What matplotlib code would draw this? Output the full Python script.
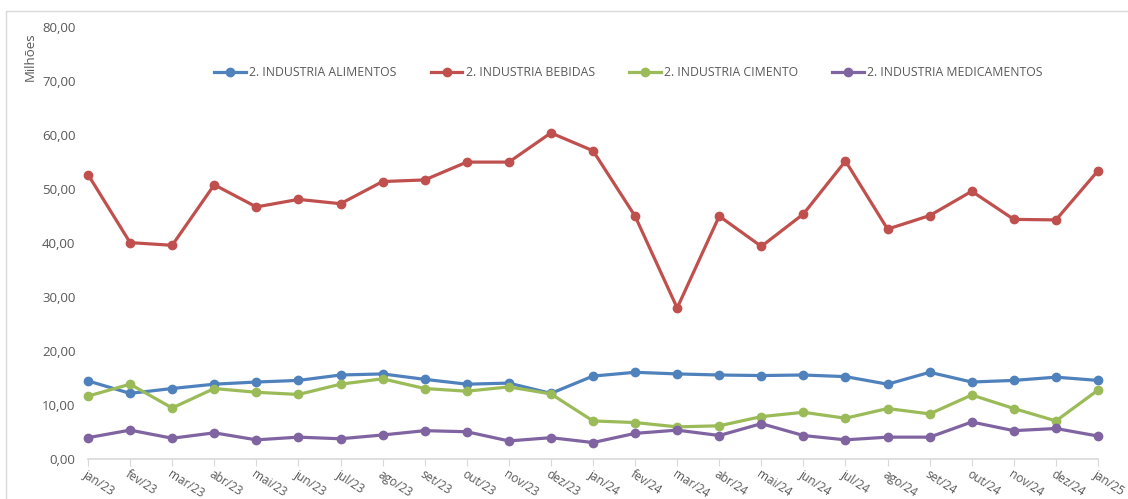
import matplotlib
matplotlib.use("Agg")
import matplotlib.pyplot as plt
from matplotlib.patches import Rectangle

months = ["jan/23", "fev/23", "mar/23", "abr/23", "mai/23", "jun/23", "jul/23", "ago/23",
          "set/23", "out/23", "nov/23", "dez/23", "jan/24", "fev/24", "mar/24", "abr/24",
          "mai/24", "jun/24", "jul/24", "ago/24", "set/24", "out/24", "nov/24", "dez/24", "jan/25"]

alimentos = [14.5, 12.2, 13.1, 13.9, 14.3, 14.6, 15.6, 15.8, 14.8, 13.9, 14.1, 12.2, 15.4,
             16.1, 15.8, 15.6, 15.5, 15.6, 15.3, 13.9, 16.1, 14.3, 14.6, 15.2, 14.6]
bebidas = [52.7, 40.1, 39.6, 50.8, 46.7, 48.1, 47.3, 51.4, 51.7, 55.0, 55.0, 60.4, 57.1,
           45.0, 28.0, 45.0, 39.4, 45.4, 55.2, 42.6, 45.1, 49.6, 44.4, 44.3, 53.4]
cimento = [11.7, 13.9, 9.5, 13.1, 12.4, 12.0, 13.9, 14.9, 13.1, 12.6, 13.4, 12.1, 7.1,
           6.8, 6.0, 6.2, 7.9, 8.7, 7.6, 9.4, 8.4, 11.9, 9.4, 7.1, 12.8]
medicamentos = [4.0, 5.4, 3.9, 4.9, 3.6, 4.1, 3.8, 4.5, 5.3, 5.1, 3.4, 4.0, 3.1,
                4.8, 5.4, 4.4, 6.6, 4.4, 3.6, 4.1, 4.1, 6.9, 5.3, 5.7, 4.3]

series_names = ["2. INDUSTRIA ALIMENTOS", "2. INDUSTRIA BEBIDAS",
                "2. INDUSTRIA CIMENTO", "2. INDUSTRIA MEDICAMENTOS"]
series_values = [alimentos, bebidas, cimento, medicamentos]
colors = ["#4F81BD", "#C0504D", "#9BBB59", "#8064A2"]

y_ticks = [0, 10, 20, 30, 40, 50, 60, 70, 80]

plt.rcParams['font.family'] = ['Open Sans', 'DejaVu Sans']
text_color = "#595959"

W, H = 1128, 499
fig = plt.figure(figsize=(W / 100, H / 100), dpi=100)
ax = fig.add_axes([88 / W, 1 - 459.3 / H, (1098 - 88) / W, (459.3 - 27) / H])

# chart frame
fig.patches.append(Rectangle((6 / W, -0.05), 1.2, 1 - 11 / H + 0.05,
                             transform=fig.transFigure, fill=False,
                             edgecolor="#D9D9D9", lw=1.0, zorder=0))

x = list(range(len(months)))
for name, vals, c in zip(series_names, series_values, colors):
    ax.plot(x, vals, color=c, lw=2.3, marker='o', markersize=6, label=name,
            solid_joinstyle='round', clip_on=False)

ax.set_xlim(0, len(months) - 1)
ax.set_ylim(0, 80)
ax.set_yticks(y_ticks)
ax.set_yticklabels([f"{v:.2f}".replace('.', ',') for v in y_ticks],
                   fontsize=9.5, color=text_color)
ax.tick_params(axis='y', length=0, pad=9)
ax.set_xticks(x)
ax.set_xticklabels(months, rotation=-33, ha='left', va='top',
                   rotation_mode='anchor', fontsize=8.6, color=text_color)
ax.tick_params(axis='x', length=5, color="#D9D9D9", pad=1)

for s in ['top', 'right', 'left']:
    ax.spines[s].set_visible(False)
ax.spines['bottom'].set_color("#D9D9D9")
ax.spines['bottom'].set_linewidth(1.2)

fig.text(30 / W, 1 - 57 / H, "Milhões", rotation=90, ha='center', va='center',
         fontsize=9.5, color=text_color)

leg = ax.legend(loc='center', bbox_to_anchor=(0.535, 0.894), ncol=4, frameon=False,
                fontsize=8.8, handlelength=2.6, handletextpad=0.25, columnspacing=2.8,
                labelcolor=text_color)

fig.savefig("out.png", dpi=100)
